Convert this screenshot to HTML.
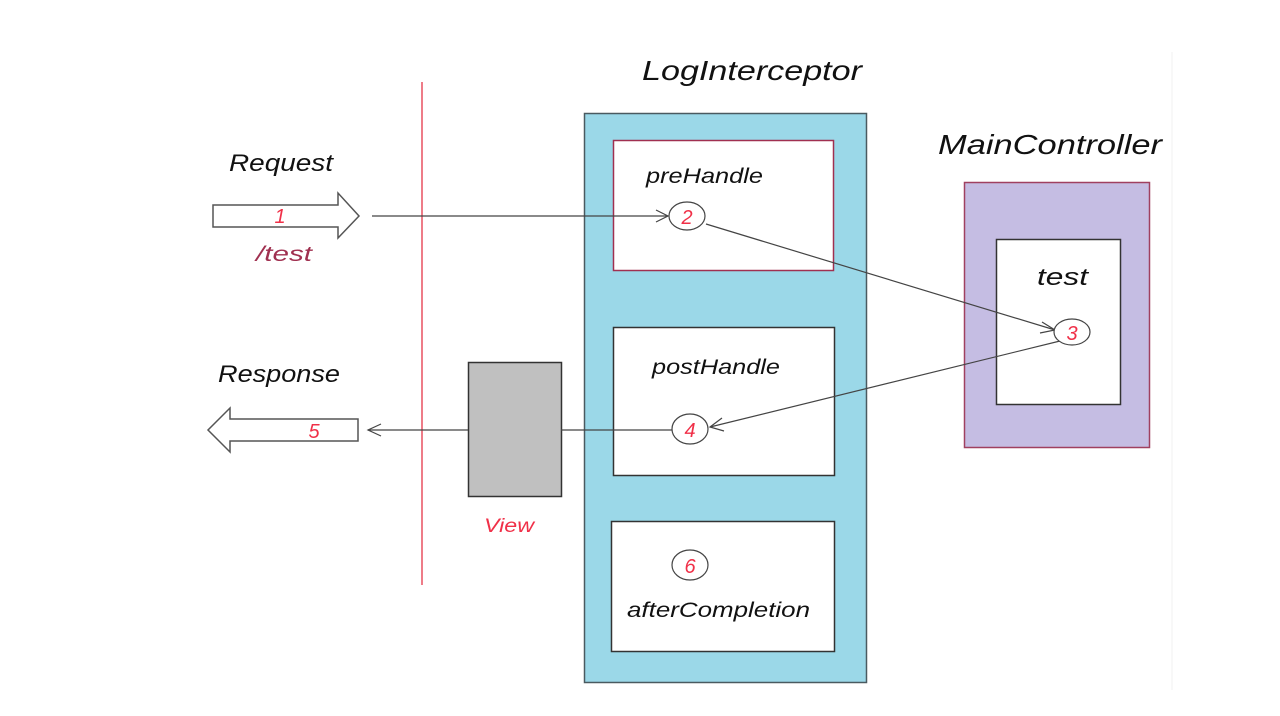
<!DOCTYPE html>
<html><head><meta charset="utf-8"><style>
html,body{margin:0;padding:0;background:#fff;width:1280px;height:716px;overflow:hidden}
text{font-family:"Liberation Sans",sans-serif;font-style:italic}
</style></head><body>
<svg width="1280" height="716" viewBox="0 0 1280 716" xmlns="http://www.w3.org/2000/svg">
<line x1="1172" y1="52" x2="1172" y2="690" stroke="#f2f2f2" stroke-width="1"/>
<line x1="422" y1="82" x2="422" y2="585" stroke="#e85060" stroke-width="1.5"/>
<rect x="584.5" y="113.5" width="282" height="569" fill="#9bd8e8" stroke="#4a5a60" stroke-width="1.5"/>
<rect x="613.5" y="140.5" width="220" height="130" fill="#fff" stroke="#a03050" stroke-width="1.5"/>
<rect x="613.5" y="327.5" width="221" height="148" fill="#fff" stroke="#333" stroke-width="1.5"/>
<rect x="611.5" y="521.5" width="223" height="130" fill="#fff" stroke="#333" stroke-width="1.5"/>
<rect x="964.5" y="182.5" width="185" height="265" fill="#c5bde3" stroke="#a04060" stroke-width="1.5"/>
<rect x="996.5" y="239.5" width="124" height="165" fill="#fff" stroke="#333" stroke-width="1.5"/>
<rect x="468.5" y="362.5" width="93" height="134" fill="#c0c0c0" stroke="#333" stroke-width="1.5"/>
<polygon points="213,205 338,205 338,193 359,216 338,238 338,227 213,227" fill="#fff" stroke="#555" stroke-width="1.5"/>
<polygon points="358,419 230,419 230,408 208,430 230,452 230,441 358,441" fill="#fff" stroke="#555" stroke-width="1.5"/>
<g stroke="#444" stroke-width="1.2" fill="none">
<line x1="372" y1="216" x2="668" y2="216"/><polyline points="656,210 668,216 656,222"/>
<line x1="706" y1="224" x2="1055" y2="330"/><polyline points="1042,322 1055,330 1040,333"/>
<line x1="1060" y1="341" x2="710" y2="427"/><polyline points="722,418 710,427 724,431"/>
<line x1="672" y1="430" x2="561" y2="430"/>
<line x1="468" y1="430" x2="368" y2="430"/><polyline points="381,424 368,430 381,436"/>
</g>
<g fill="#fff" stroke="#444" stroke-width="1.2">
<ellipse cx="687" cy="216" rx="18" ry="14"/>
<ellipse cx="1072" cy="332" rx="18" ry="13"/>
<ellipse cx="690" cy="429" rx="18" ry="15"/>
<ellipse cx="690" cy="565" rx="18" ry="15"/>
</g>
<g fill="#f03048" font-size="20" text-anchor="middle">
<text x="280" y="223">1</text>
<text x="687" y="224">2</text>
<text x="1072" y="340">3</text>
<text x="690" y="437">4</text>
<text x="314" y="438">5</text>
<text x="690" y="573">6</text>
</g>
<text x="484" y="532" font-size="19" fill="#f03048" textLength="50" lengthAdjust="spacingAndGlyphs">View</text>
<g fill="#111">
<text x="642" y="80" font-size="28" textLength="220" lengthAdjust="spacingAndGlyphs">LogInterceptor</text>
<text x="938" y="154" font-size="28" textLength="224" lengthAdjust="spacingAndGlyphs">MainController</text>
<text x="229" y="171" font-size="24" textLength="104" lengthAdjust="spacingAndGlyphs">Request</text>
<text x="218" y="382" font-size="24" textLength="122" lengthAdjust="spacingAndGlyphs">Response</text>
<text x="646" y="183" font-size="21" textLength="117" lengthAdjust="spacingAndGlyphs">preHandle</text>
<text x="652" y="374" font-size="21" textLength="128" lengthAdjust="spacingAndGlyphs">postHandle</text>
<text x="1037" y="285" font-size="24" textLength="51" lengthAdjust="spacingAndGlyphs">test</text>
<text x="627" y="617" font-size="21" textLength="183" lengthAdjust="spacingAndGlyphs">afterCompletion</text>
</g>
<text x="256" y="261" font-size="21" fill="#a03050" textLength="56" lengthAdjust="spacingAndGlyphs">/test</text>
</svg>
</body></html>
